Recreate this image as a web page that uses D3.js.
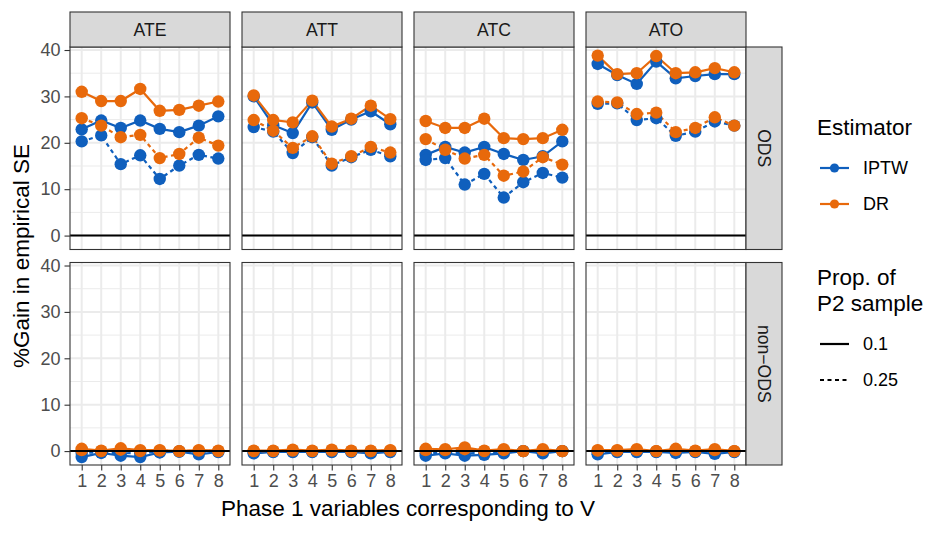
<!DOCTYPE html>
<html>
<head>
<meta charset="utf-8">
<script src="https://cdn.jsdelivr.net/npm/d3@7/dist/d3.min.js"></script>
<style>
  body { margin: 0; background: #fff; }
  svg { font-family: "Liberation Sans", Arial, sans-serif; }
</style>
</head>
<body>
<script>
var estimands = ["ATE", "ATT", "ATC", "ATO"];
var designs = ["ODS", "non\u2212ODS"];
var phaseVars = [1, 2, 3, 4, 5, 6, 7, 8];
var yTicks = [0, 10, 20, 30, 40];
var yMinor = [5, 15, 25, 35];

// rows = ATE, ATT, ATC, ATO ; p = proportion of phase 2 sample
var odsIptwP10 = [
  [22.9, 24.8, 23.2, 24.8, 23.0, 22.3, 23.7, 25.7],
  [30.0, 23.8, 22.1, 28.7, 22.8, 25.0, 26.8, 24.0],
  [17.4, 19.1, 17.9, 19.1, 17.6, 16.3, 17.1, 20.3],
  [37.0, 34.6, 32.7, 37.5, 33.9, 34.4, 34.8, 34.8]
];
var odsDrP10 = [
  [31.0, 29.0, 29.0, 31.6, 26.9, 27.1, 28.0, 28.9],
  [30.2, 24.9, 24.4, 29.1, 23.5, 25.2, 28.0, 25.1],
  [24.7, 23.2, 23.2, 25.2, 21.0, 20.8, 21.0, 22.8],
  [38.8, 34.8, 35.0, 38.7, 35.0, 35.2, 36.1, 35.2]
];
var odsIptwP25 = [
  [20.3, 21.6, 15.4, 17.3, 12.2, 15.1, 17.4, 16.6],
  [23.4, 22.4, 17.8, 21.2, 15.1, 16.9, 18.5, 17.1],
  [16.3, 16.7, 11.0, 13.3, 8.2, 11.5, 13.5, 12.5],
  [28.4, 28.5, 24.9, 25.3, 21.5, 22.4, 24.6, 23.7]
];
var odsDrP25 = [
  [25.3, 23.7, 21.2, 21.7, 16.7, 17.6, 21.1, 19.4],
  [24.9, 22.6, 18.9, 21.4, 15.5, 17.1, 19.1, 17.9],
  [20.8, 18.5, 16.6, 17.4, 12.9, 13.8, 16.9, 15.3],
  [28.9, 28.7, 26.2, 26.5, 22.3, 23.2, 25.5, 23.7]
];
var nonIptwP10 = [
  [-1.3, -0.4, -1.0, -1.3, -0.3, -0.1, -0.7, -0.2],
  [-0.5, -0.2, -0.2, -0.2, -0.2, -0.2, -0.5, -0.2],
  [-1.0, -0.5, -1.0, -0.8, -0.5, 0.0, -0.5, 0.0],
  [-0.7, -0.2, -0.2, -0.2, -0.4, -0.2, -0.6, -0.2]
];
var nonDrP10 = [
  [0.5, 0.1, 0.6, 0.2, 0.2, 0.0, 0.2, 0.1],
  [0.1, 0.1, 0.3, 0.1, 0.3, 0.1, 0.1, 0.2],
  [0.5, 0.4, 0.8, 0.1, 0.4, 0.0, 0.4, 0.0],
  [0.2, 0.2, 0.4, 0.0, 0.5, 0.1, 0.4, 0.0]
];
var nonIptwP25 = [
  [-0.4, -0.3, -0.5, -0.4, -0.2, -0.1, -0.3, -0.1],
  [-0.3, -0.1, -0.1, -0.1, -0.1, -0.1, -0.3, -0.1],
  [-0.5, -0.3, -0.5, -0.4, -0.3, 0.0, -0.3, 0.0],
  [-0.4, -0.1, -0.1, -0.1, -0.2, -0.1, -0.3, -0.1]
];
var nonDrP25 = [
  [0.2, 0.0, 0.3, 0.0, 0.1, 0.0, 0.1, 0.0],
  [0.0, 0.0, 0.1, 0.0, 0.1, 0.0, 0.0, 0.1],
  [0.2, 0.2, 0.4, 0.0, 0.2, 0.0, 0.2, 0.0],
  [0.1, 0.1, 0.2, 0.0, 0.2, 0.0, 0.2, 0.0]
];

var estimators = ["IPTW", "DR"];
var props = ["0.1", "0.25"];
var colors = { IPTW: "#0F5FBD", DR: "#E8690B" };
var dashes = { "0.1": null, "0.25": "4,3.5" };

var w = 947, h = 533;
var left0 = 70, panelW = 160, gapX = 12;
var top0 = 47, panelH = 202.5, gapY = 13;
var stripH = 35, stripW = 36;

var svg = d3.select("body").append("svg").attr("width", w).attr("height", h);

var xScale = d3.scaleLinear().domain([0.4, 8.6]).range([0, panelW]);
var yScale = d3.scaleLinear().domain([-3.0, 40.65]).range([panelH, 0]);

var seriesByDesign = [
  [
    { est: "IPTW", p: "0.1", vals: odsIptwP10 },
    { est: "IPTW", p: "0.25", vals: odsIptwP25 },
    { est: "DR", p: "0.1", vals: odsDrP10 },
    { est: "DR", p: "0.25", vals: odsDrP25 }
  ],
  [
    { est: "IPTW", p: "0.1", vals: nonIptwP10 },
    { est: "IPTW", p: "0.25", vals: nonIptwP25 },
    { est: "DR", p: "0.1", vals: nonDrP10 },
    { est: "DR", p: "0.25", vals: nonDrP25 }
  ]
];

var line = d3.line()
  .x(function(d, i) { return xScale(phaseVars[i]); })
  .y(function(d) { return yScale(d); });

designs.forEach(function(design, r) {
  var py = top0 + r * (panelH + gapY);
  estimands.forEach(function(est, c) {
    var px = left0 + c * (panelW + gapX);
    var g = svg.append("g").attr("transform", "translate(" + px + "," + py + ")");

    // grid
    g.selectAll(".minor").data(yMinor).enter().append("line")
      .attr("x1", 0).attr("x2", panelW)
      .attr("y1", function(d) { return yScale(d); }).attr("y2", function(d) { return yScale(d); })
      .attr("stroke", "#EBEBEB").attr("stroke-width", 1);
    g.selectAll(".majy").data(yTicks).enter().append("line")
      .attr("x1", 0).attr("x2", panelW)
      .attr("y1", function(d) { return yScale(d); }).attr("y2", function(d) { return yScale(d); })
      .attr("stroke", "#EBEBEB").attr("stroke-width", 2);
    g.selectAll(".majx").data(phaseVars).enter().append("line")
      .attr("y1", 0).attr("y2", panelH)
      .attr("x1", function(d) { return xScale(d); }).attr("x2", function(d) { return xScale(d); })
      .attr("stroke", "#EBEBEB").attr("stroke-width", 2);

    var series = seriesByDesign[r];
    series.forEach(function(s) {
      g.append("path")
        .attr("d", line(s.vals[c]))
        .attr("fill", "none")
        .attr("stroke", colors[s.est])
        .attr("stroke-width", 2.2)
        .attr("stroke-dasharray", dashes[s.p]);
    });
    series.forEach(function(s) {
      g.selectAll(null).data(s.vals[c]).enter().append("circle")
        .attr("cx", function(d, i) { return xScale(phaseVars[i]); })
        .attr("cy", function(d) { return yScale(d); })
        .attr("r", 6.2)
        .attr("fill", colors[s.est]);
    });

    // zero line, drawn over the points
    g.append("line")
      .attr("x1", 0).attr("x2", panelW)
      .attr("y1", yScale(0)).attr("y2", yScale(0))
      .attr("stroke", "#000").attr("stroke-width", 2);

    // border
    g.append("rect").attr("width", panelW).attr("height", panelH)
      .attr("fill", "none").attr("stroke", "#333").attr("stroke-width", 1.1);

    // top strip
    if (r === 0) {
      svg.append("rect")
        .attr("x", px).attr("y", top0 - stripH).attr("width", panelW).attr("height", stripH)
        .attr("fill", "#D9D9D9").attr("stroke", "#333").attr("stroke-width", 1.1);
      svg.append("text")
        .attr("x", px + panelW / 2).attr("y", top0 - stripH / 2 + 6.3)
        .attr("text-anchor", "middle").attr("font-size", "17.6px").attr("fill", "#1A1A1A")
        .text(est);
    }

    // y axis
    if (c === 0) {
      var yAxis = d3.axisLeft(yScale).tickValues(yTicks).tickSize(5.5).tickPadding(4);
      var ya = g.append("g").call(yAxis);
      ya.select(".domain").remove();
      ya.selectAll(".tick line").attr("stroke", "#333").attr("stroke-width", 1.1);
      ya.selectAll(".tick text").attr("font-size", "18px").attr("fill", "#4D4D4D")
        .attr("font-family", "Liberation Sans, Arial, sans-serif");
    }

    // x axis
    if (r === designs.length - 1) {
      var xAxis = d3.axisBottom(xScale).tickValues(phaseVars).tickSize(5.5).tickPadding(4);
      var xa = g.append("g").attr("transform", "translate(0," + panelH + ")").call(xAxis);
      xa.select(".domain").remove();
      xa.selectAll(".tick line").attr("stroke", "#333").attr("stroke-width", 1.1);
      xa.selectAll(".tick text").attr("font-size", "18px").attr("fill", "#4D4D4D")
        .attr("font-family", "Liberation Sans, Arial, sans-serif");
    }
  });

  // right strip
  var sx = left0 + estimands.length * (panelW + gapX) - gapX;
  svg.append("rect")
    .attr("x", sx).attr("y", py).attr("width", stripW).attr("height", panelH)
    .attr("fill", "#D9D9D9").attr("stroke", "#333").attr("stroke-width", 1.1);
  svg.append("text")
    .attr("transform", "translate(" + (sx + stripW / 2 - 6.3) + "," + (py + panelH / 2) + ") rotate(90)")
    .attr("text-anchor", "middle").attr("font-size", "17.6px").attr("fill", "#1A1A1A")
    .text(design);
});

// axis titles
var panelsRight = left0 + estimands.length * (panelW + gapX) - gapX;
svg.append("text")
  .attr("x", (left0 + panelsRight) / 2).attr("y", 516)
  .attr("text-anchor", "middle").attr("font-size", "22.5px").attr("fill", "#000")
  .text("Phase 1 variables corresponding to V");
svg.append("text")
  .attr("transform", "translate(29," + (top0 + panelH + gapY / 2) + ") rotate(-90)")
  .attr("text-anchor", "middle").attr("font-size", "22.5px").attr("fill", "#000")
  .text("%Gain in empirical SE");

// legends
var lg = svg.append("g");
lg.append("text").attr("x", 817).attr("y", 135).attr("font-size", "22.5px").text("Estimator");
estimators.forEach(function(e, i) {
  var cy = 168 + i * 36;
  lg.append("line").attr("x1", 820).attr("x2", 849).attr("y1", cy).attr("y2", cy)
    .attr("stroke", colors[e]).attr("stroke-width", 2.2);
  lg.append("circle").attr("cx", 834.5).attr("cy", cy).attr("r", 4.6).attr("fill", colors[e]);
  lg.append("text").attr("x", 863).attr("y", cy + 6.3).attr("font-size", "18px").text(e);
});

lg.append("text").attr("x", 817).attr("y", 285).attr("font-size", "22.5px").text("Prop. of");
lg.append("text").attr("x", 817).attr("y", 311).attr("font-size", "22.5px").text("P2 sample");
props.forEach(function(p, i) {
  var cy = 344 + i * 36;
  lg.append("line").attr("x1", 820).attr("x2", 849).attr("y1", cy).attr("y2", cy)
    .attr("stroke", "#000").attr("stroke-width", 2.2)
    .attr("stroke-dasharray", dashes[p]);
  lg.append("text").attr("x", 863).attr("y", cy + 6.3).attr("font-size", "18px").text(p);
});
</script>
</body>
</html>
